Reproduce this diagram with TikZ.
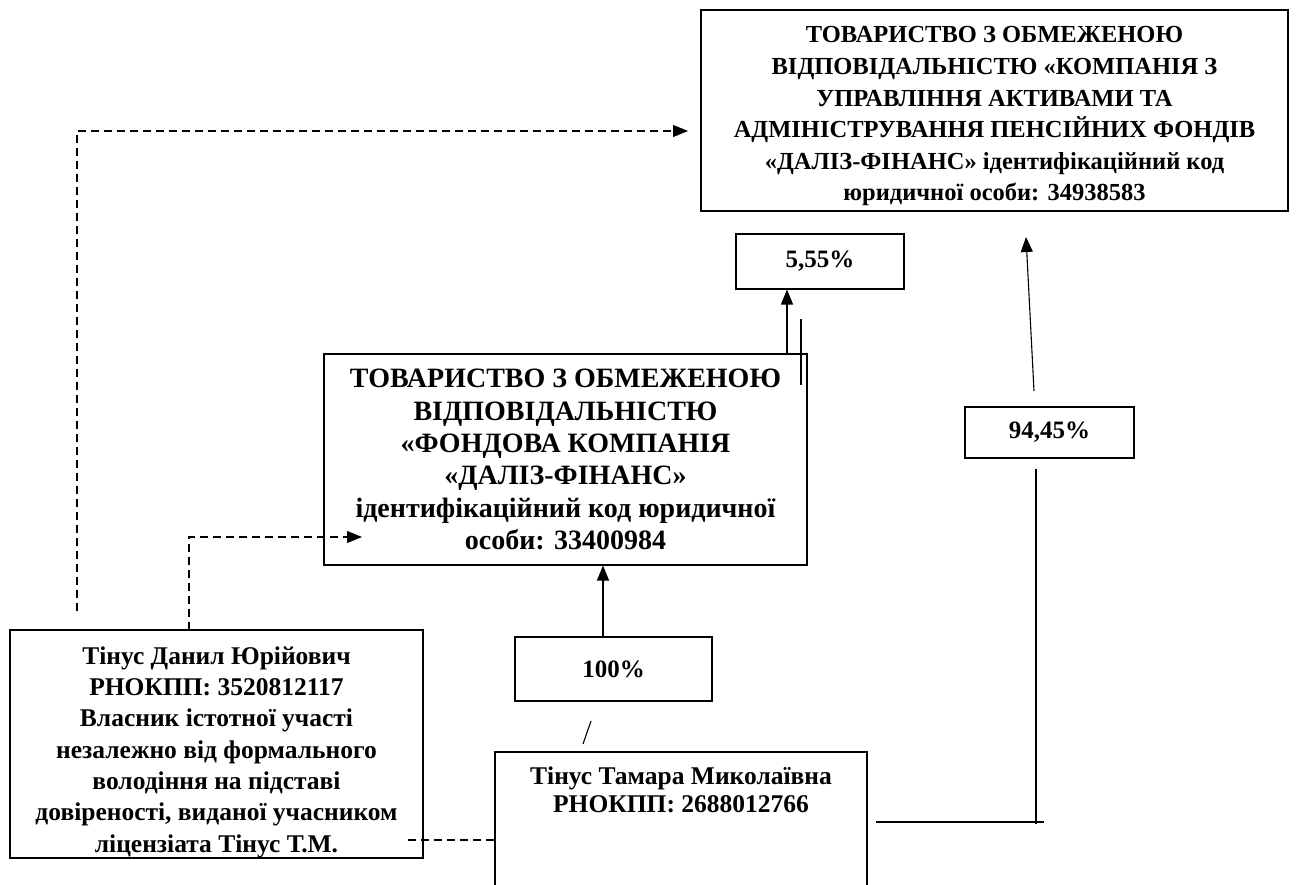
\documentclass[tikz,border=0pt]{standalone}
\usepackage{fontspec}
\setmainfont{Liberation Serif}
\usetikzlibrary{arrows.meta}
\tikzset{
  box/.style={draw, line width=1.3pt, inner sep=0pt, align=center, font=\bfseries},
  conn/.style={line width=1.1pt},
  dconn/.style={line width=1.1pt, dash pattern=on 8pt off 5pt},
  tip/.style={-{Triangle[length=15pt,width=12pt]}}
}
\begin{document}
\begin{tikzpicture}[x=1pt,y=-1pt]
\clip (0,0) rectangle (1298,885);
\fill[white] (0,0) rectangle (1298,885);

% top company
\node[box, minimum width=587pt, minimum height=201pt,
  font=\bfseries\fontsize{24.5}{31.6}\selectfont] (top) at (994.5,110.5)
  {\rule{0pt}{28pt}ТОВАРИСТВО З ОБМЕЖЕНОЮ\\ВІДПОВІДАЛЬНІСТЮ «КОМПАНІЯ З\\УПРАВЛІННЯ АКТИВАМИ ТА\\АДМІНІСТРУВАННЯ ПЕНСІЙНИХ ФОНДІВ\\«ДАЛІЗ-ФІНАНС» ідентифікаційний код\\юридичної особи: 34938583};

% 5,55%
\node[box, minimum width=168pt, minimum height=55pt,
  font=\bfseries\fontsize{25}{30}\selectfont] (p1) at (820,261.5) {5,55\%};

% middle company
\node[box, minimum width=483pt, minimum height=211pt,
  font=\bfseries\fontsize{28}{32.3}\selectfont] (mid) at (565.5,459.5)
  {ТОВАРИСТВО З ОБМЕЖЕНОЮ\\ВІДПОВІДАЛЬНІСТЮ\\«ФОНДОВА КОМПАНІЯ\\«ДАЛІЗ-ФІНАНС»\\ідентифікаційний код юридичної\\особи: 33400984};

% 94,45%
\node[box, minimum width=169pt, minimum height=51pt,
  font=\bfseries\fontsize{25}{30}\selectfont] (p2) at (1049.5,432.5) {94,45\%};

% 100%
\node[box, minimum width=197pt, minimum height=64pt,
  font=\bfseries\fontsize{25}{30}\selectfont] (p3) at (613.5,669) {100\%};

% left person
\node[box, minimum width=413pt, minimum height=228pt] (lp) at (216.5,744) {};
\node[font=\bfseries\fontsize{25.5}{31.3}\selectfont, align=center, inner sep=0pt] (lpt) at (216.5,752)
  {Тінус Данил Юрійович\\РНОКПП: 3520812117\\Власник істотної участі\\незалежно від формального\\володіння на підставі\\довіреності, виданої учасником\\ліцензіата Тінус Т.М.};

% Tamara box (cut by the page bottom)
\draw[line width=1.3pt] (495,905) -- (495,752) -- (867,752) -- (867,905);
\node[font=\bfseries\fontsize{25.5}{28}\selectfont, align=center, inner sep=0pt] (tam) at (681,790)
  {Тінус Тамара Миколаївна\\РНОКПП: 2688012766};
\coordinate (tamL) at (495,840);

% connectors
\coordinate (a1) at (77,611);
\coordinate (a2) at (77,131);
\coordinate (a3) at (688,131);
\draw[dconn, tip] (a1) -- (a2) -- (a3);

\coordinate (b1) at (189,630);
\coordinate (b2) at (189,537);
\coordinate (b3) at (362,537);
\draw[dconn, tip] (b1) -- (b2) -- (b3);

\coordinate (c1) at (787,354);
\draw[conn, tip] (c1) -- (787,289.5);
\coordinate (d1) at (801,319);
\coordinate (d2) at (801,385);
\draw[conn] (d1) -- (d2);

\draw[conn, tip] (p3.north -| 603,0) -- (603,565.5);

\coordinate (s1) at (583,744);
\coordinate (s2) at (591,721);
\draw[conn] (s1) -- (s2);

\coordinate (lpR) at (408,840);
\draw[dconn] (lpR) -- (tamL);

\coordinate (e1) at (876,822);
\coordinate (e2) at (1044,822);
\coordinate (e3) at (1036,824);
\coordinate (e4) at (1036,469);
\draw[conn] (e1) -- (e2);
\draw[conn] (e3) -- (e4);

\coordinate (f1) at (1034,391);
\coordinate (f2) at (1026,237);
\draw[conn, tip] (f1) -- (f2);
\end{tikzpicture}
\end{document}
